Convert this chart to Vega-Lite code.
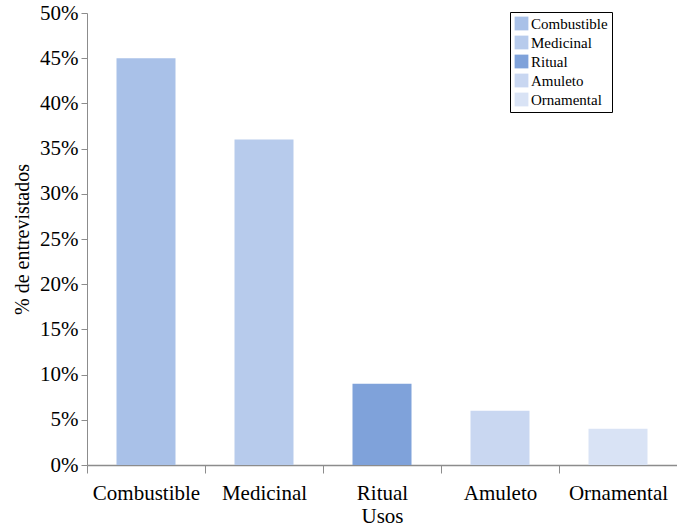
{
  "$schema": "https://vega.github.io/schema/vega-lite/v6.json",
  "width": 590,
  "height": 452,
  "autosize": "none",
  "padding": {"left": 87, "top": 13, "right": 0, "bottom": 64},
  "background": "white",
  "config": {
    "view": {"stroke": null},
    "font": "Liberation Serif",
    "axis": {"labelFont": "Liberation Serif", "titleFont": "Liberation Serif", "labelColor": "#000", "titleColor": "#000", "domainColor": "#8c8c8c", "tickColor": "#8c8c8c", "grid": false, "labelFontSize": 21, "titleFontSize": 20, "titleFontWeight": "normal"},
    "legend": {"labelFont": "Liberation Serif", "labelFontSize": 15, "labelColor": "#000"}
  },
  "data": {
    "values": [
      {"uso": "Combustible", "pct": 0.45},
      {"uso": "Medicinal", "pct": 0.36},
      {"uso": "Ritual", "pct": 0.09},
      {"uso": "Amuleto", "pct": 0.06},
      {"uso": "Ornamental", "pct": 0.04}
    ]
  },
  "mark": {"type": "bar"},
  "encoding": {
    "x": {
      "field": "uso", "type": "nominal", "sort": null,
      "scale": {"paddingInner": 0.5, "paddingOuter": 0.25},
      "axis": {"title": "Usos", "labelAngle": 0, "tickSize": 8, "tickOffset": -59, "labelOffset": 59, "labelPadding": 9, "titlePadding": 2, "titleFontSize": 21, "domainWidth": 1.5}
    },
    "y": {
      "field": "pct", "type": "quantitative",
      "scale": {"domain": [0, 0.5]},
      "axis": {"title": "% de entrevistados", "format": ".0%", "values": [0, 0.05, 0.1, 0.15, 0.2, 0.25, 0.3, 0.35, 0.4, 0.45, 0.5], "tickSize": 6, "labelPadding": 3, "titlePadding": 7}
    },
    "color": {
      "field": "uso", "type": "nominal", "sort": null,
      "scale": {"domain": ["Combustible", "Medicinal", "Ritual", "Amuleto", "Ornamental"], "range": ["#a9c1e8", "#b7cbec", "#7fa2da", "#c9d7f1", "#d9e3f5"]},
      "legend": {"title": null, "orient": "none", "legendX": 423, "legendY": -1, "symbolType": "square", "symbolSize": 190, "symbolStrokeWidth": 0, "rowPadding": 3, "padding": 4, "strokeColor": "#000", "fillColor": "#fff", "labelOffset": 2, "cornerRadius": 0}
    }
  }
}
